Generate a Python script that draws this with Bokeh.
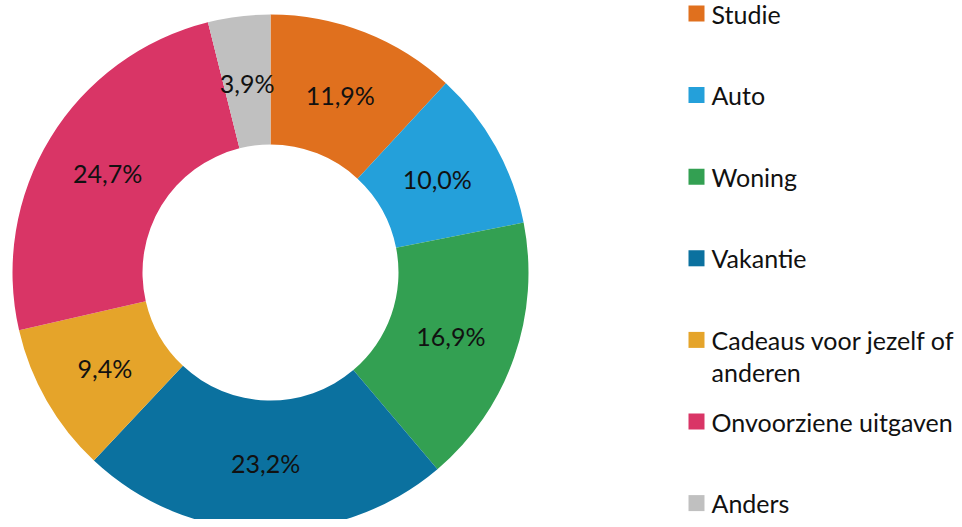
import math
from bokeh.plotting import figure
from bokeh.models import Range1d, ColumnDataSource
from bokeh.core.properties import value
from bokeh.embed import file_html
from bokeh.resources import INLINE

# ---- data ----
categories = ["Studie", "Auto", "Woning", "Vakantie",
              "Cadeaus voor jezelf of anderen", "Onvoorziene uitgaven", "Anders"]
legend_line1 = ["Studie", "Auto", "Woning", "Vakantie",
                "Cadeaus voor jezelf of", "Onvoorziene uitgaven", "Anders"]
legend_line2 = ["", "", "", "", "anderen", "", ""]
values = [11.9, 10.0, 16.9, 23.2, 9.4, 24.7, 3.9]
labels = ["11,9%", "10,0%", "16,9%", "23,2%", "9,4%", "24,7%", "3,9%"]
colors = ["#E0701E", "#24A0DA", "#33A052", "#0B719F", "#E5A42A", "#D93566", "#C0C0C0"]

FONT = "Lato"

# ---- layout (pixels) ----
W, H = 954, 519
cx, cy = 270, 272          # donut centre inside the frame (from left / top)
R_OUT, R_IN = 258, 128
R_LABEL = 191

total = sum(values)
starts, ends, mids = [], [], []
acc = 0.0
for v in values:
    a0 = math.pi / 2 - 2 * math.pi * acc / total
    acc += v
    a1 = math.pi / 2 - 2 * math.pi * acc / total
    starts.append(a0)
    ends.append(a1)
    mids.append((a0 + a1) / 2)

src = ColumnDataSource(dict(
    start=starts, end=ends, color=colors, label=labels,
    lx=[R_LABEL * math.cos(m) for m in mids],
    ly=[R_LABEL * math.sin(m) for m in mids],
))

p = figure(width=W, height=H,
           x_range=Range1d(-cx, W - cx), y_range=Range1d(-(H - cy), cy),
           output_backend="svg", toolbar_location=None,
           x_axis_location=None, y_axis_location=None, min_border=0)
p.grid.visible = False
p.outline_line_color = None
p.background_fill_color = "white"

p.annular_wedge(x=0, y=0, inner_radius=R_IN, outer_radius=R_OUT,
                start_angle="start", end_angle="end", direction="clock",
                fill_color="color", line_color=None, source=src)

p.text(x="lx", y="ly", text="label", source=src,
       text_align="center", text_baseline="middle",
       text_font=value(FONT), text_font_size="25px", text_color="#111111")

# ---- legend drawn manually ----
leg_top = cy - 13         # y of first item centre
leg_step = 81.6
sq_x = 696 - cx
tx = 711 - cx
leg_y = [leg_top - i * leg_step for i in range(len(categories))]
lsrc = ColumnDataSource(dict(x=[sq_x] * len(categories), y=leg_y, color=colors,
                             t1=legend_line1, t2=legend_line2,
                             tx=[tx] * len(categories),
                             y2=[y - 32 for y in leg_y]))
p.rect(x="x", y="y", width=16, height=16, fill_color="color", line_color=None, source=lsrc)
p.text(x="tx", y="y", text="t1", source=lsrc, text_align="left", text_baseline="middle",
       text_font=value(FONT), text_font_size="25px", text_color="#111111")
p.text(x="tx", y="y2", text="t2", source=lsrc, text_align="left", text_baseline="middle",
       text_font=value(FONT), text_font_size="25px", text_color="#111111")

open("out.html", "w").write(file_html(p, INLINE))
